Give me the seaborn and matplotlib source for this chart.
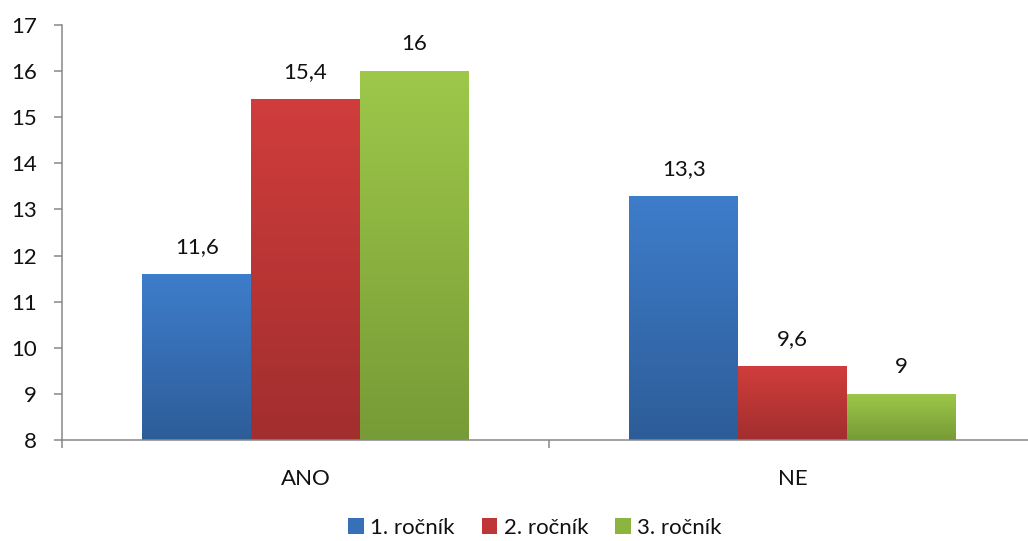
import numpy as np
import pandas as pd
import matplotlib
matplotlib.use("Agg")
import matplotlib.pyplot as plt
import seaborn as sns
from matplotlib.colors import LinearSegmentedColormap
from matplotlib.patches import Patch

categories = ["ANO", "NE"]
series = ["1. ročník", "2. ročník", "3. ročník"]
values_1 = [11.6, 13.3]
values_2 = [15.4, 9.6]
values_3 = [16, 9]
yticks = [8, 9, 10, 11, 12, 13, 14, 15, 16, 17]

top_colors = ["#3E7DCB", "#D03D3C", "#9DC84A"]
bot_colors = ["#2D5D98", "#A22E2E", "#779B36"]
mid_colors = ["#3670B8", "#BE3636", "#8BB441"]

df = pd.DataFrame({
    "kategorie": categories * 3,
    "rocnik": [series[0]] * 2 + [series[1]] * 2 + [series[2]] * 2,
    "hodnota": values_1 + values_2 + values_3,
})

sns.set_style("white")
plt.rcParams["font.family"] = ["Lato", "DejaVu Sans"]

fig = plt.figure(figsize=(10.28, 5.41), dpi=100)
ax = fig.add_axes([62 / 1028, 1 - 440 / 541, 974 / 1028, 415 / 541])

sns.barplot(data=df, x="kategorie", y="hodnota", hue="rocnik",
            palette=mid_colors, width=0.67, ax=ax, legend=False,
            saturation=1, order=categories, hue_order=series)

ax.set_ylim(8, 17)
ax.set_xlim(-0.5, 1.5)

fs = 16
ymin = 8
for ci, cont in enumerate(ax.containers):
    cmap = LinearSegmentedColormap.from_list("g", [bot_colors[ci], top_colors[ci]])
    for bar, val in zip(cont, [values_1, values_2, values_3][ci]):
        x = bar.get_x()
        w = bar.get_width()
        top = bar.get_height()
        grad = np.linspace(0, 1, 256).reshape(-1, 1)
        im = ax.imshow(grad, extent=(x, x + w, ymin, top), origin="lower",
                       cmap=cmap, aspect="auto", zorder=2)
        im.set_clip_path(bar)
        bar.set_facecolor("none")
        bar.set_edgecolor("none")
        lbl = f"{val:g}".replace(".", ",")
        ax.annotate(lbl, (x + w / 2, top), xytext=(0, 12), textcoords="offset points",
                    ha="center", va="bottom", fontsize=fs, color="#111111")

ax.set_xlim(-0.5, 1.5)
ax.set_ylim(8, 17)
ax.set_yticks(yticks)
ax.set_xlabel("")
ax.set_ylabel("")

gray = "#878787"
for s in ["top", "right"]:
    ax.spines[s].set_visible(False)
for s in ["left", "bottom"]:
    ax.spines[s].set_color(gray)
    ax.spines[s].set_linewidth(1.1)

ax.tick_params(axis="y", direction="out", length=6, width=1.1, color=gray,
               labelsize=fs, pad=12, left=True, labelcolor="#111111")
ax.set_xticks([0, 1])
ax.set_xticks([-0.5, 0.5, 1.5], minor=True)
ax.tick_params(axis="x", which="major", length=0, labelsize=fs, pad=21, labelcolor="#111111")
ax.tick_params(axis="x", which="minor", direction="out", length=6, width=1.1, color=gray, bottom=True)

handles = [Patch(facecolor=mid_colors[i], edgecolor="none", label=series[i]) for i in range(3)]
fig.legend(handles=handles, loc="center", bbox_to_anchor=(535 / 1028, 1 - 528 / 541),
           ncol=3, frameon=False, fontsize=fs, handlelength=0.7, handleheight=0.7,
           handletextpad=0.3, columnspacing=1.2, labelcolor="#111111")

fig.savefig("out.png", dpi=100)
